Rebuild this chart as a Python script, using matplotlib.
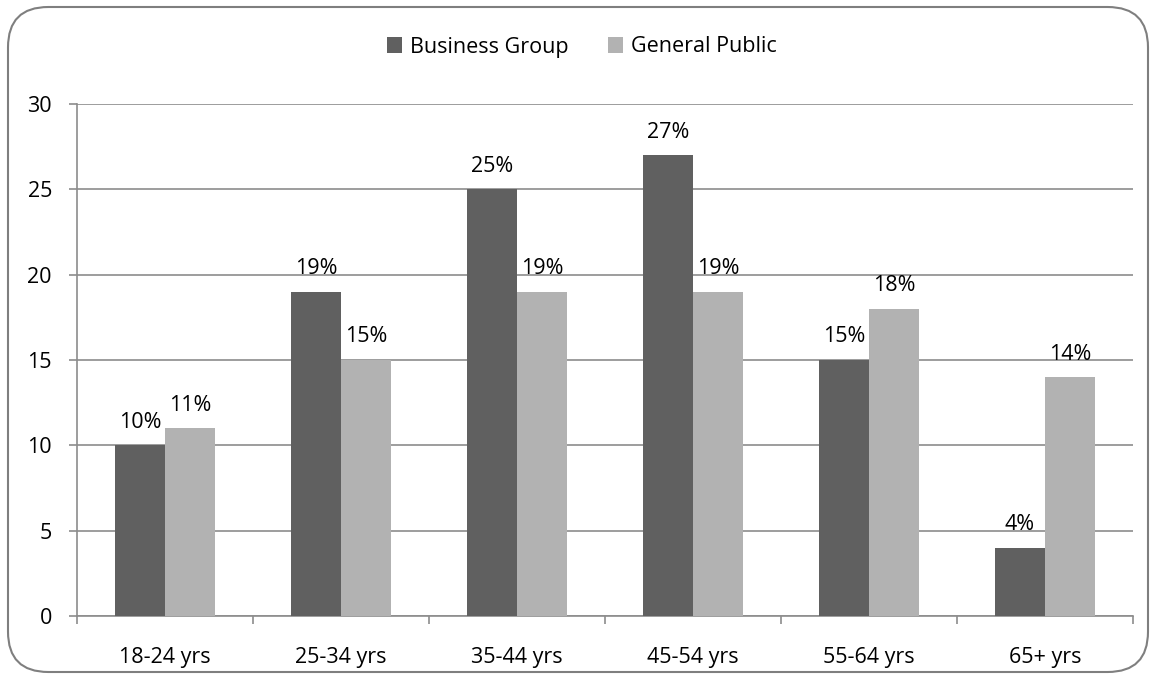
import numpy as np
import matplotlib.pyplot as plt
from matplotlib.patches import FancyBboxPatch

plt.rcParams['font.family'] = ['Open Sans', 'DejaVu Sans']

# data
categories = ["18-24 yrs", "25-34 yrs", "35-44 yrs", "45-54 yrs", "55-64 yrs", "65+ yrs"]
business = [10, 19, 25, 27, 15, 4]
public = [11, 15, 19, 19, 18, 14]
series_names = ["Business Group", "General Public"]
y_ticks = [0, 5, 10, 15, 20, 25, 30]

dark = "#606060"
light = "#b2b2b2"
grid_c = "#8c8c8c"
fs = 15.5

fig = plt.figure(figsize=(11.53, 6.75), dpi=100)
ax = fig.add_axes([77 / 1153, 59 / 675, 1056 / 1153, 512 / 675])

x = np.arange(len(categories))
w = 1 / 3.5
b1 = ax.bar(x - w / 2, business, w, color=dark, label=series_names[0], zorder=3)
b2 = ax.bar(x + w / 2, public, w, color=light, label=series_names[1], zorder=3)

# value labels
for bars in [b1, b2]:
    for bar in bars:
        h = bar.get_height()
        ax.annotate(f"{h:.0f}%", xy=(bar.get_x() + bar.get_width() / 2, h),
                    xytext=(0, 9), textcoords="offset points",
                    ha="center", va="bottom", fontsize=fs)

ax.set_xlim(-0.5, len(categories) - 0.5)
ax.set_ylim(0, 30)
ax.set_yticks(y_ticks)
ax.set_yticklabels([str(t) for t in y_ticks], fontsize=fs)
ax.set_xticks(x)
ax.set_xticklabels(categories, fontsize=fs)
ax.tick_params(axis="x", length=0, pad=22)
ax.set_xticks(np.arange(-0.5, len(categories)), minor=True)
ax.tick_params(axis="x", which="minor", length=6, color=grid_c, width=1.2)
ax.tick_params(axis="y", length=6, color=grid_c, width=1.2, pad=12)

ax.grid(axis="y", color=grid_c, linewidth=1.2, zorder=0)
for s in ["top", "right"]:
    ax.spines[s].set_visible(False)
for s in ["left", "bottom"]:
    ax.spines[s].set_color(grid_c)
    ax.spines[s].set_linewidth(1.2)

fig.legend(handles=[b1, b2], labels=series_names, loc="center",
           bbox_to_anchor=(582 / 1153, 1 - 47 / 675), ncol=2, frameon=False,
           fontsize=fs, handlelength=0.7, handleheight=0.7, columnspacing=1.8,
           handletextpad=0.4)

# rounded chart border
frame = FancyBboxPatch((8 / 1153, 3 / 675), 1140 / 1153, 665 / 675,
                       boxstyle="round,pad=0,rounding_size=0.035",
                       transform=fig.transFigure, fill=False,
                       edgecolor="#7f7f7f", linewidth=1.5,
                       mutation_aspect=1153 / 675)
fig.patches.append(frame)

plt.savefig("out.png", dpi=100)
